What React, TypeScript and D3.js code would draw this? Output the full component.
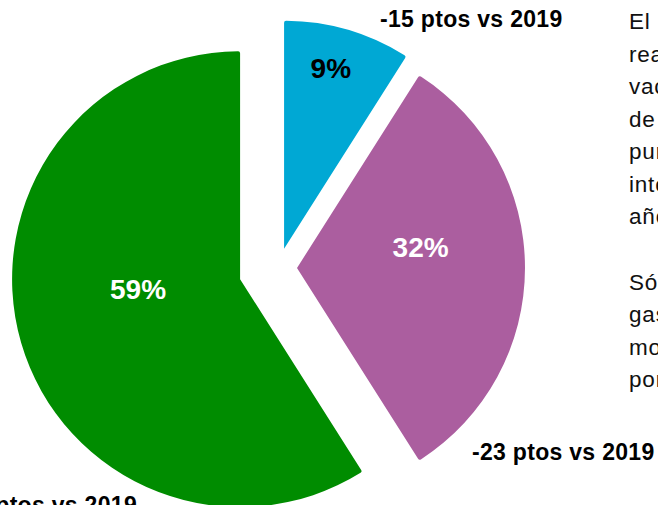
import React from "react";
import * as d3 from "d3";

const categories = ["Azul", "Morado", "Verde"];
const values = [9, 32, 59];
const percentLabels = ["9%", "32%", "59%"];
const changeLabels = ["-15 ptos vs 2019", "-23 ptos vs 2019", "+38 ptos vs 2019"];
const bodyParagraph1 = [
  "El 59% de los españoles",
  "realizará sus escapadas",
  "vacacionales dentro",
  "de España, un",
  "punto más que la",
  "intención mostrada el",
  "año pasado.",
];
const bodyParagraph2 = [
  "Sólo el 9% piensa",
  "gastar más, en gran",
  "modo motivado",
  "por la inflación.",
];

const colors = ["#00A8D4", "#AB5E9F", "#008C00"];
const explode = [20, 18.5, 40];
const labelPos = [
  { r: 0.82, da: -0.03 },
  { r: 0.55, da: -0.17 },
  { r: 0.45, da: 0.18 },
];
const labelColors = ["#000", "#fff", "#fff"];

const W = 658;
const H = 505;
const cx = 278.5;
const cy = 268;
const R = 228;

export default function App() {
  const pie = d3
    .pie<number>()
    .sort(null)
    .value((d) => d)
    .startAngle(0)
    .endAngle(2 * Math.PI);
  const arcs = pie(values);
  const arc = d3
    .arc<d3.PieArcDatum<number>>()
    .innerRadius(0)
    .outerRadius(R)
    .cornerRadius(2);

  const font = "'Liberation Sans', Arial, Helvetica, sans-serif";
  const labelStyle = { fontWeight: "bold" as const, fontSize: 23, letterSpacing: 0.3 };
  const bodyStyle = { fontSize: 22.5, letterSpacing: 0.8 };

  return (
    <svg
      width={W}
      height={H}
      style={{ position: "absolute", left: 0, top: 0, overflow: "hidden" }}
      fontFamily={font}
    >
      <rect width={W} height={H} fill="#fff" />
      {arcs.map((a, i) => {
        const mid = (a.startAngle + a.endAngle) / 2;
        const ox = cx + explode[i] * Math.sin(mid);
        const oy = cy - explode[i] * Math.cos(mid);
        const la = mid + labelPos[i].da;
        const lr = labelPos[i].r * R;
        const lx = lr * Math.sin(la);
        const ly = -lr * Math.cos(la);
        return (
          <g key={categories[i]} transform={`translate(${ox},${oy})`}>
            <path d={arc(a) || ""} fill={colors[i]} />
            <text
              x={lx}
              y={ly}
              dy="0.35em"
              textAnchor="middle"
              fontWeight="bold"
              fontSize={28}
              fill={labelColors[i]}
            >
              {percentLabels[i]}
            </text>
          </g>
        );
      })}
      <text x={380} y={27} fill="#000" style={labelStyle}>
        {changeLabels[0]}
      </text>
      <text x={472} y={460} fill="#000" style={labelStyle}>
        {changeLabels[1]}
      </text>
      <text x={137} y={513} textAnchor="end" fill="#000" style={labelStyle}>
        {changeLabels[2]}
      </text>
      {bodyParagraph1.map((t, i) => (
        <text
          key={"p1" + i}
          x={629}
          y={29.3 + i * 32.45}
          fill="#111"
          style={bodyStyle}
          wordSpacing={i === 0 ? 10 : 0}
        >
          {t}
        </text>
      ))}
      {bodyParagraph2.map((t, i) => (
        <text key={"p2" + i} x={629} y={290 + i * 32.45} fill="#111" style={bodyStyle}>
          {t}
        </text>
      ))}
    </svg>
  );
}
